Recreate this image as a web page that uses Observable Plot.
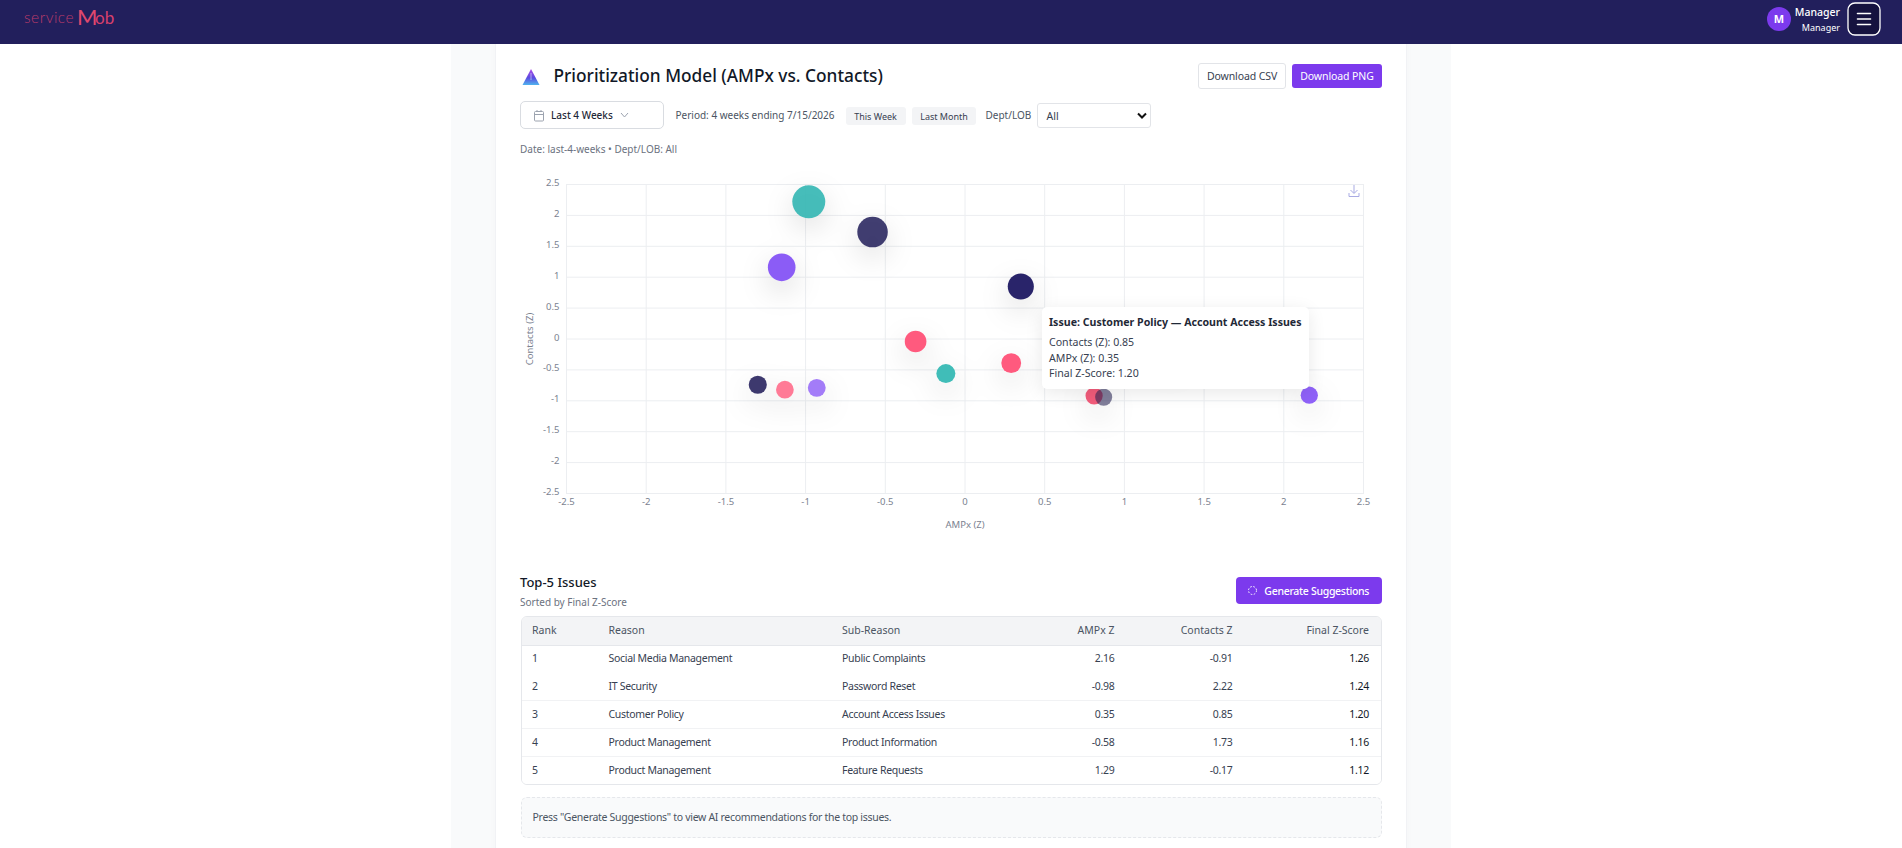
<!DOCTYPE html>
<html>
<head>
<meta charset="utf-8">
<script src="https://cdn.jsdelivr.net/npm/d3@7"></script>
<script src="https://cdn.jsdelivr.net/npm/@observablehq/plot@0.6"></script>
<style>
html,body{margin:0;padding:0;width:1902px;height:848px;overflow:hidden;background:#fff;font-family:"Noto Sans",sans-serif;color:#111827}
.a{position:absolute;white-space:nowrap;line-height:1}
#nav{position:absolute;left:0;top:0;width:1902px;height:44px;background:#221f5c}
#band{position:absolute;left:451px;top:44px;width:1000px;height:804px;background:#f9fafb}
#card{position:absolute;left:496px;top:36px;width:910px;height:830px;background:#fff;box-shadow:0 0 0 1px #f1f2f5,0 2px 8px rgba(0,0,0,.03);border-radius:8px}
.btn{position:absolute;box-sizing:border-box;display:flex;align-items:center;justify-content:center;font-size:10.5px;border-radius:3px}
.chip{position:absolute;top:107px;height:18px;background:#f3f4f6;border-radius:3px;color:#374151;font-size:9px;display:flex;align-items:center;justify-content:center}
#tbl{position:absolute;left:520.5px;top:616px;width:861.5px;height:168.5px;box-sizing:border-box;border:1px solid #e5e7eb;border-radius:6px;overflow:hidden}
.row{position:absolute;left:0;width:100%;height:28px;border-bottom:1px solid #f1f2f4;box-sizing:border-box}
.cell{position:absolute;top:0;height:100%;box-sizing:border-box;padding-bottom:2px;display:flex;align-items:center;font-size:10.5px;color:#374151;white-space:nowrap}
#plot{position:absolute;left:500px;top:165px}
#tip{position:absolute;left:1042px;top:307px;width:267px;height:82px;background:#fff;border-radius:5px;box-shadow:0 4px 18px rgba(0,0,0,.09)}
#note{position:absolute;left:520.5px;top:797px;width:861.5px;height:41px;box-sizing:border-box;border:1px dashed #e5e7eb;border-radius:6px;background:#f9fafb;display:flex;align-items:center;padding:0 0 2px 11px;font-size:10.5px;letter-spacing:-.3px;color:#4b5563}
</style>
</head>
<body>
<div id="band"></div>
<div id="card"></div>
<div id="nav"></div>
<div class="a" style="left:24px;top:10px;font-family:Lato,sans-serif;font-size:15.5px;font-weight:300;color:#b83a6a;letter-spacing:.5px">service</div>
<div class="a" style="left:77px;top:6px;font-family:Lato,sans-serif;font-size:22px;font-weight:400;color:#e0486e">M</div>
<div class="a" style="left:95px;top:9px;font-family:Lato,sans-serif;font-size:17px;font-weight:400;color:#d8406c">ob</div>
<svg class="a" style="left:1767px;top:7px" width="24" height="24"><circle cx="12" cy="12" r="12" fill="#7c3aed"/></svg>
<div class="a" style="left:1767px;top:13px;width:24px;text-align:center;color:#fff;font-size:11px;font-weight:700">M</div>
<div class="a" style="right:62px;top:7px;color:#fff;font-size:10.5px;font-weight:500">Manager</div>
<div class="a" style="right:62px;top:23px;color:#fff;font-size:9px">Manager</div>
<svg class="a" style="left:1847px;top:2px" width="34" height="34"><rect x="1" y="1" width="32" height="32" rx="7" fill="#15123f" stroke="#fff" stroke-width="1.3"/><path d="M10.5 11.5H23.5M10.5 17H23.5M10.5 22.5H23.5" stroke="#fff" stroke-width="1.6" stroke-linecap="round"/></svg>

<svg class="a" style="left:521px;top:67px" width="20" height="20"><defs><linearGradient id="g" x1="0" y1="0" x2="0" y2="1"><stop offset="0" stop-color="#b04be8"/><stop offset=".55" stop-color="#5b4be0"/><stop offset="1" stop-color="#4fb4ee"/></linearGradient></defs><path d="M10 2L18.5 18H1.5Z" fill="url(#g)"/><path d="M10 6L10 13" stroke="#fff" stroke-width="1" opacity=".5"/></svg>
<div class="a" style="left:553.5px;top:67px;font-size:17.3px;font-weight:500;color:#111827">Prioritization Model (AMPx vs. Contacts)</div>
<div class="btn" style="left:1198px;top:63px;width:88px;height:26px;border:1px solid #e2e4e8;background:#fff;color:#374151;letter-spacing:-.1px">Download CSV</div>
<div class="btn" style="left:1292px;top:64px;width:90px;height:24px;background:#7c3aed;color:#fff;letter-spacing:-.1px">Download PNG</div>

<div class="btn" style="left:520px;top:101px;width:143.5px;height:28px;border:1px solid #d9dce1;border-radius:5px;background:#fff"></div>
<svg class="a" style="left:533px;top:109px" width="12" height="13"><rect x="1.5" y="2.5" width="9" height="9.5" rx="1" fill="none" stroke="#9ca3af"/><path d="M1.5 5.5H10.5M4 1V3M8 1V3" stroke="#9ca3af" fill="none"/></svg>
<div class="a" style="left:551px;top:110px;font-size:10px;font-weight:500;color:#1f2937">Last 4 Weeks</div>
<svg class="a" style="left:620px;top:111px" width="9" height="8"><path d="M1 2L4.5 6L8 2" fill="none" stroke="#9ca3af"/></svg>
<div class="a" style="left:675.5px;top:110px;font-size:10px;color:#4b5563">Period: 4 weeks ending 7/15/2026</div>
<div class="chip" style="left:845.5px;width:60px">This Week</div>
<div class="chip" style="left:912px;width:64px">Last Month</div>
<div class="a" style="left:985.5px;top:110px;font-size:10px;color:#4b5563">Dept/LOB</div>
<div class="btn" style="left:1036.5px;top:103px;width:114px;height:25px;border:1px solid #e2e4e8;background:#fff;justify-content:flex-start;padding-left:9px;color:#374151;font-size:10.5px">All</div>
<svg class="a" style="left:1137px;top:112px" width="10" height="8"><path d="M1 1.5L5 5.5L9 1.5" fill="none" stroke="#111" stroke-width="2"/></svg>
<div class="a" style="left:520px;top:144px;font-size:10px;color:#6b7280">Date: last-4-weeks • Dept/LOB: All</div>

<div id="plot"></div>
<svg class="a" style="left:1348px;top:184px" width="12" height="14"><path d="M6 1V9M2.5 6L6 9.5L9.5 6M1 9V12.5H11V9" fill="none" stroke="#a9abe3" stroke-width="1"/></svg>

<div id="tip"></div>

<div class="a" style="left:520px;top:576px;font-size:13px;font-weight:500;color:#111827">Top-5 Issues</div>
<div class="a" style="left:520px;top:597px;font-size:10px;color:#6b7280">Sorted by Final Z-Score</div>
<div class="btn" style="left:1235.5px;top:577px;width:146.5px;height:27px;background:#7c3aed;color:#fff;border-radius:4px;font-weight:500;padding-left:16px;letter-spacing:-.3px">Generate Suggestions</div>
<svg class="a" style="left:1247px;top:585px" width="11" height="11"><circle cx="5.5" cy="5.5" r="4" fill="none" stroke="#fff" stroke-width="1" stroke-dasharray="1.6 1.6"/></svg>
<div id="tbl"></div>
<div id="note">Press "Generate Suggestions" to view AI recommendations for the top issues.</div>

<script>
// ---- chart data ----
const zTicks = [-2.5, -2, -1.5, -1, -0.5, 0, 0.5, 1, 1.5, 2, 2.5];
const issues = ["IT Security: Password Reset", "Product Management: Product Information", "Issue C", "Customer Policy: Account Access Issues", "Issue E", "Issue F", "Issue G", "Issue H", "Issue I", "Issue J", "Issue K", "Issue L", "Social Media Management: Public Complaints", "Product Management: Feature Requests"];
const ampxZ    = [-0.98, -0.58, -1.15, 0.35, -0.31, -0.12, 0.29, -1.30, -1.13, -0.93, 0.81, 0.87, 2.16, 1.29];
const contactsZ = [2.22, 1.73, 1.16, 0.85, -0.04, -0.56, -0.39, -0.74, -0.82, -0.79, -0.92, -0.94, -0.91, -0.17];

// ---- table data ----
const tableHead = ["Rank", "Reason", "Sub-Reason", "AMPx Z", "Contacts Z", "Final Z-Score"];
const ranks = ["1", "2", "3", "4", "5"];
const reasons = ["Social Media Management", "IT Security", "Customer Policy", "Product Management", "Product Management"];
const subReasons = ["Public Complaints", "Password Reset", "Account Access Issues", "Product Information", "Feature Requests"];
const tblAmpx = ["2.16", "-0.98", "0.35", "-0.58", "1.29"];
const tblContacts = ["-0.91", "2.22", "0.85", "1.73", "-0.17"];
const tblFinal = ["1.26", "1.24", "1.20", "1.16", "1.12"];

// ---- tooltip text ----
const tipTitle = "Issue: Customer Policy — Account Access Issues";
const tipLines = ["Contacts (Z): 0.85", "AMPx (Z): 0.35", "Final Z-Score: 1.20"];

// ---- styling ----
const dotColors = ["rgba(50,182,178,.9)", "rgba(34,30,90,.86)", "#8b5cf6", "#29246a", "#ff5a7e", "#40bdb8", "#ff5a7e", "rgba(34,30,90,.88)", "#ff7a96", "#a37cf8", "rgba(240,70,105,.88)", "rgba(40,36,85,.58)", "#8f62f8", "#40bdb8"];
const points = issues.map((issue, i) => ({issue, x: ampxZ[i], y: contactsZ[i]}));

const chart = Plot.plot({
  width: 880, height: 375,
  marginLeft: 66, marginRight: 17, marginTop: 19, marginBottom: 47,
  style: {fontFamily: '"Noto Sans",sans-serif', fontSize: "9.5px", color: "#6b7280", background: "transparent", overflow: "visible"},
  x: {domain: [-2.5, 2.5]},
  y: {domain: [-2.5, 2.5]},
  r: {type: "linear", domain: [-1, 2.5], range: [8.4, 17.2]},
  color: {domain: issues, range: dotColors},
  marks: [
    Plot.gridX(zTicks, {stroke: "#eceef1", strokeOpacity: 1}),
    Plot.gridY(zTicks, {stroke: "#eceef1", strokeOpacity: 1}),
    Plot.frame({stroke: "#eceef1"}),
    Plot.axisX({ticks: zTicks, tickSize: 0, tickPadding: 5, tickFormat: d => String(d), label: "AMPx (Z)", labelAnchor: "center", labelArrow: "none", labelOffset: 34, fill: "#7b8290"}),
    Plot.axisY({ticks: zTicks, tickSize: 0, tickPadding: 7, dy: -1.5, tickFormat: d => String(d), label: "Contacts (Z)", labelAnchor: "center", labelArrow: "none", labelOffset: 40, fill: "#7b8290"}),
    Plot.dot(points, {x: "x", y: "y", r: "y", fill: "issue", imageFilter: "drop-shadow(0 10px 14px rgba(0,0,0,.14))"})
  ]
});
document.getElementById("plot").appendChild(chart);

// tooltip
const tip = d3.select("#tip");
tip.append("div").attr("class", "a").style("left", "7px").style("top", "10px").style("font-size", "10.6px").style("font-weight", "700").style("color", "#1f2937").text(tipTitle);
tipLines.forEach((t, i) => tip.append("div").attr("class", "a").style("left", "7px").style("top", [30, 46, 61][i] + "px").style("font-size", "10.6px").style("color", "#374151").text(t));

// table
const tbl = d3.select("#tbl");
const colLeft = [10.5, 87, 320.5];
const colRight = [266.5, 148.5, 12];
function addRow(vals, top, head) {
  const r = tbl.append("div").attr("class", "row").style("top", top + "px").style("height", head ? "28.5px" : "28px")
    .style("background", head ? "#f3f4f6" : "#fff").style("border-bottom-color", head ? "#e5e7eb" : "#f1f2f4");
  vals.forEach((v, i) => {
    const c = r.append("div").attr("class", "cell").text(v);
    if (i < 3) c.style("left", colLeft[i] + "px");
    else c.style("right", colRight[i - 3] + "px");
    if (head) c.style("color", "#4b5563");
    else c.style("letter-spacing", "-.3px");
    if (!head && i === 5) c.style("color", "#111827");
  });
}
addRow(tableHead, 0, true);
ranks.forEach((rank, i) => addRow([rank, reasons[i], subReasons[i], tblAmpx[i], tblContacts[i], tblFinal[i]], 28.5 + i * 27.9, false));
</script>
</body>
</html>
